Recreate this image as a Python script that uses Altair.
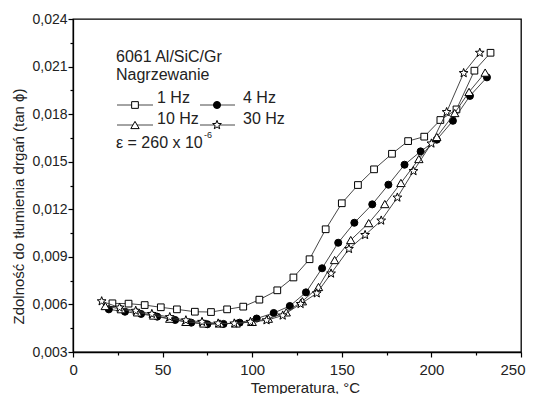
import math
import altair as alt
import pandas as pd

# ---- data ----
T_1HZ = [22, 31, 40, 49, 58, 68, 77, 86, 95, 104, 114, 123, 132, 141, 150, 159, 168, 178, 187, 196, 205, 214, 224, 233]
V_1HZ = [0.00607, 0.00605, 0.00596, 0.00582, 0.00569, 0.00554, 0.00552, 0.00569, 0.00586, 0.0063, 0.00689, 0.0077,
         0.00885, 0.01074, 0.01238, 0.01353, 0.01452, 0.0155, 0.0163, 0.01658, 0.01763, 0.0183, 0.02074, 0.02187]

T_4HZ = [20, 29, 38, 47, 57, 66, 75, 84, 93, 102.5, 112, 121, 130, 139, 148, 157, 167, 176, 185, 194, 203, 212, 221.5, 231]
V_4HZ = [0.00569, 0.00554, 0.0054, 0.00523, 0.00502, 0.00485, 0.00475, 0.00477, 0.00485, 0.00511, 0.00546, 0.0059,
         0.00676, 0.00828, 0.00989, 0.01115, 0.01231, 0.01355, 0.01481, 0.01565, 0.01639, 0.01758, 0.01915, 0.02032]

T_10HZ = [18, 27, 36, 45, 54, 63, 73, 82, 91, 100, 109, 119, 128, 137, 146, 155, 165, 174, 183, 193, 203, 213, 221, 230]
V_10HZ = [0.0059, 0.0057, 0.0055, 0.0053, 0.0051, 0.0049, 0.0048, 0.0048, 0.0048, 0.0049, 0.0051, 0.0055,
          0.0062, 0.0071, 0.0088, 0.01006, 0.01113, 0.01233, 0.01366, 0.01517, 0.01656, 0.01807, 0.0194, 0.02062]

T_30HZ = [16, 26, 35, 44, 54, 63, 72, 81, 90, 99, 108, 117, 127, 136, 144, 154, 163, 172, 181, 190, 200, 208.5, 218, 227]
V_30HZ = [0.0062, 0.0058, 0.0056, 0.0054, 0.0052, 0.0050, 0.0049, 0.0048, 0.0048, 0.0049, 0.0050, 0.0053,
          0.00603, 0.0067, 0.00795, 0.0095, 0.01038, 0.01129, 0.01274, 0.01441, 0.01615, 0.01813, 0.02059, 0.02187]

X_TICKS = [0, 25, 50, 75, 100, 125, 150, 175, 200, 225, 250]
Y_TICKS = [0.003, 0.0045, 0.006, 0.0075, 0.009, 0.0105, 0.012, 0.0135, 0.015, 0.0165, 0.018, 0.0195, 0.021, 0.0225, 0.024]

LEGEND_TITLE_1 = "6061 Al/SiC/Gr"
LEGEND_TITLE_2 = "Nagrzewanie"
LEGEND_NOTE = "ε = 260 x 10"
LEGEND_EXP = "-6"

# ---- styles ----
FONT = "Liberation Sans"
pts = []
for k in range(10):
    r = 1.0 if k % 2 == 0 else 0.42
    a = math.radians(-90 + 36 * k)
    pts.append(f"{r*math.cos(a):.3f},{r*math.sin(a):.3f}")
STAR = "M" + " L".join(pts) + " Z"

series = [
    ("1 Hz", T_1HZ, V_1HZ, "square", "white", 45),
    ("4 Hz", T_4HZ, V_4HZ, "circle", "black", 50),
    ("10 Hz", T_10HZ, V_10HZ, "triangle-up", "white", 70),
    ("30 Hz", T_30HZ, V_30HZ, STAR, "white", 85),
]

rows = []
for name, ts, vs, *_ in series:
    for t, v in zip(ts, vs):
        rows.append({"series": name, "T": t, "v": v})
df = pd.DataFrame(rows)

xscale = alt.Scale(domain=[0, 250], nice=False)
yscale = alt.Scale(domain=[0.003, 0.024], nice=False, zero=False)

x_axis = alt.Axis(
    values=X_TICKS,
    labelExpr="datum.value % 50 == 0 ? datum.label : ''",
    tickSize={"condition": {"test": "datum.value % 50 != 0", "value": 3}, "value": 5},
    title="Temperatura, °C",
    titleX=232, titleY=35, titleBaseline="middle", titleAnchor="middle",
    labelFontSize=15, titleFontSize=15, labelPadding=5, grid=False,
    labelFlush=True, labelFlushOffset=4,
    labelFont=FONT, titleFont=FONT, titleFontWeight="normal",
)
y_axis = alt.Axis(
    values=Y_TICKS,
    labelExpr="round(datum.value*10000) % 30 == 0 ? replace(format(datum.value, '.3f'), '.', ',') : ''",
    tickSize={"condition": {"test": "round(datum.value*10000) % 30 != 0", "value": 3}, "value": 5},
    title="Zdolność do tłumienia drgań (tan ϕ)",
    titleX=-55, titleY=187, titleBaseline="middle", titleAnchor="middle", titleAngle=270,
    labelFontSize=14, titleFontSize=15, labelPadding=1, grid=False, labelFlush=False,
    labelFont=FONT, titleFont=FONT, titleFontWeight="normal",
)

enc_x = alt.X("T:Q", scale=xscale, axis=x_axis)
enc_y = alt.Y("v:Q", scale=yscale, axis=y_axis)

base = alt.Chart(df)
layers = []
for name, ts, vs, shape, fill, size in series:
    sub = base.transform_filter(alt.datum.series == name)
    line = sub.mark_line(color="#333333", strokeWidth=0.9).encode(x=enc_x, y=enc_y, order="T:Q")
    pt = sub.mark_point(shape=shape, filled=True, fill=fill, stroke="black", strokeWidth=1,
                        size=size, opacity=1).encode(x=enc_x, y=enc_y)
    layers += [line, pt]

# ---- hand-made legend (plot-area pixel positions) ----
def txt(s, x, y, size=16):
    return alt.Chart(pd.DataFrame({"t": [s]})).mark_text(
        align="left", baseline="middle", font=FONT, fontSize=size, color="#222222"
    ).encode(x=alt.value(x), y=alt.value(y), text="t:N")

legend = [txt(LEGEND_TITLE_1, 43, 38), txt(LEGEND_TITLE_2, 43, 56)]
legend_rows = [
    ("1 Hz", 44, 80, 62, 86, 84, 79),
    ("4 Hz", 127, 162, 144, 86, 170, 79),
    ("10 Hz", 44, 80, 62, 106, 84, 100),
    ("30 Hz", 127, 162, 144, 106, 170, 100),
]
lookup = {s[0]: s for s in series}
for name, x0, x1, xs, ys, xt, yt in legend_rows:
    _, _, _, shape, fill, size = lookup[name]
    legend.append(alt.Chart(pd.DataFrame({"a": [0]})).mark_rule(color="#333333", strokeWidth=0.9).encode(
        x=alt.value(x0), x2=alt.value(x1), y=alt.value(ys)))
    legend.append(alt.Chart(pd.DataFrame({"a": [0]})).mark_point(
        shape=shape, filled=True, fill=fill, stroke="black", strokeWidth=1, size=size, opacity=1
    ).encode(x=alt.value(xs), y=alt.value(ys)))
    legend.append(txt(name, xt, yt))
legend.append(txt(LEGEND_NOTE, 43, 124))
legend.append(txt(LEGEND_EXP, 131, 116, size=9))

chart = alt.layer(*layers, *legend).properties(
    width=448, height=333,
    autosize=alt.AutoSizeParams(type="none"),
    padding={"left": 65, "top": 11, "right": 6, "bottom": 42},
).configure_view(stroke="black", strokeWidth=1.3).configure_axis(
    domainColor="black", domainWidth=1.3, tickColor="black", tickWidth=1.2,
    labelColor="#222222", titleColor="#222222",
)

chart.save("out.html", embed_options={"renderer": "svg", "actions": False})
